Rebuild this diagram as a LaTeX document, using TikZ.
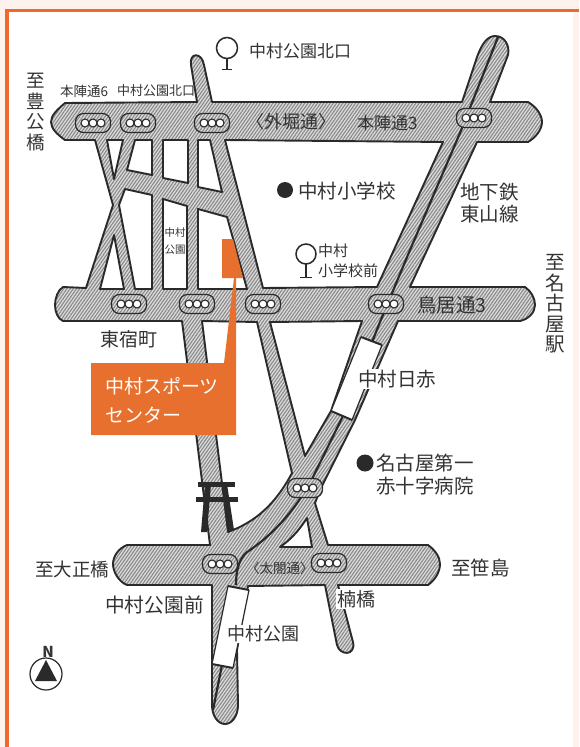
\documentclass[tikz,border=0pt]{standalone}
\usepackage{fontspec}
\setmainfont{Noto Sans CJK JP}
\usetikzlibrary{patterns.meta}
\definecolor{roadbg}{HTML}{DCDCDC}
\definecolor{roadln}{HTML}{888888}
\definecolor{ink}{HTML}{2A2A2A}
\definecolor{txt}{HTML}{333333}
\definecolor{orangeb}{HTML}{E8702F}
\definecolor{frameo}{HTML}{EE6A2C}
\definecolor{pagebg}{HTML}{FDF3EC}
\tikzset{
  hatchfill/.style={preaction={fill=roadbg},pattern={Lines[angle=55,distance=2.6pt,line width=1.1pt]},pattern color=roadln},
  roadshape/.style={hatchfill,draw=ink,line width=1.9pt,line join=round},
  holeshape/.style={fill=white,draw=ink,line width=1.9pt,line join=round},
  centerline/.style={draw=ink,line width=2.2pt},
  jt/.style={inner sep=0pt,anchor=west,text=txt,font=\fontsize{#1}{#1}\selectfont},
  jc/.style={inner sep=0pt,text=txt,font=\fontsize{#1}{#1}\selectfont},
  whitebg/.style={fill=white,inner sep=1pt},
  sigbox/.style={hatchfill,draw=ink,line width=1.2pt},
  lamp/.style={fill=white,draw=ink,line width=1.1pt},
  station/.style={fill=white},
  stationbar/.style={draw=ink,line width=2pt},
  stationside/.style={draw=ink,line width=1.2pt},
  toriibar/.style={fill=ink},
  vert/.style={inner sep=0pt,text=txt,align=center,font=\fontsize{#1}{20.5}\selectfont},
}
\newcommand{\sigmark}[2]{%
  \draw[sigbox,rounded corners=8pt] (#1-17.5,#2-9.5) rectangle (#1+17.5,#2+9.5);
  \draw[lamp] (#1-8,#2) circle (4pt);
  \draw[lamp] (#1,#2) circle (4pt);
  \draw[lamp] (#1+8,#2) circle (4pt);
}
\begin{document}
\begin{tikzpicture}[x=1pt,y=-1pt]
\useasboundingbox (0,0) rectangle (579,747);
% page and frame
\fill[pagebg] (0,0) rectangle (579,747);
\fill[white] (8,11) rectangle (573,747);
\fill[frameo] (5,9) rectangle (579,12);
\fill[frameo] (5,9) rectangle (8.5,747);
% road network outline
\path[roadshape]
  (51,122) .. controls (51,115) and (58,109) .. (65,103)
  -- (197,102) -- (191,65) .. controls (189,52) and (202,52) .. (204,65)
  -- (212,102) -- (462,102) -- (477,57) .. controls (482,43) and (488,36) .. (495,36)
  .. controls (505,36) and (510,46) .. (508,55)
  -- (490,102) -- (528,102) .. controls (535,106) and (542,114) .. (542,122)
  .. controls (542,130) and (535,138) .. (528,142)
  -- (477,142) -- (410,287) -- (525,287) .. controls (531,291) and (535,298) .. (535,305)
  .. controls (535,312) and (529,319) .. (520,321)
  -- (398,321) -- (355,420) -- (320,490) -- (315,503) -- (328,545)
  -- (428,545) .. controls (435,550) and (440,557) .. (440,564)
  .. controls (440,572) and (435,580) .. (428,585)
  -- (338,585) -- (353,642) .. controls (356,656) and (340,656) .. (337,645)
  -- (325,585) -- (248,586) -- (237,650) -- (238,705)
  .. controls (238,716) and (232,724) .. (225,724)
  .. controls (218,724) and (212,716) .. (212,705)
  -- (212,585) -- (127,585) .. controls (119,582) and (113,572) .. (113,564)
  .. controls (113,556) and (119,548) .. (127,545)
  -- (210,545) -- (182,321) -- (63,321) .. controls (58,319) and (55,312) .. (55,305)
  .. controls (55,298) and (58,290) .. (63,287)
  -- (86,288) -- (113,205) -- (95,140) -- (65,140)
  .. controls (58,135) and (51,129) .. (51,122) -- cycle;
% holes
\draw[holeshape] (107,140) -- (123,140) -- (114,179) -- cycle;
\draw[holeshape] (135,140) -- (152,140) -- (152,175) -- (127,170) -- cycle;
\draw[holeshape] (163,140) -- (188,140) -- (188,183) -- (163,178) -- cycle;
\draw[holeshape] (198,140) -- (210,140) -- (222,192) -- (198,187) -- cycle;
\draw[holeshape] (125,189) -- (152,195) -- (152,289) -- (135,289) -- (119,205) -- cycle;
\draw[holeshape] (163,199) -- (187,206) -- (187,289) -- (163,289) -- cycle;
\draw[holeshape] (198,209) -- (227,217) -- (247,289) -- (198,289) -- cycle;
\draw[holeshape] (114,235) -- (124,289) -- (100,289) -- cycle;
\draw[holeshape] (225,140) -- (443,142) -- (377,287) -- (263,288) -- cycle;
\draw[holeshape] (202,321) -- (257,322) -- (292,473) .. controls (275,505) and (255,522) .. (228,532) -- cycle;
\draw[holeshape] (270,322) -- (362,321) -- (331,411) -- (305,456) -- cycle;
\draw[holeshape] (307,518) .. controls (298,532) and (290,540) .. (280,547) -- (312,547) -- cycle;
% subway centre line
\draw[centerline] (498,37) -- (460,133) -- (410,250) -- (380,322) -- (342,418) -- (313,477)
  .. controls (296,510) and (272,535) .. (250,550)
  .. controls (240,556) and (236,568) .. (236,585);
\draw[centerline] (222,665) -- (213,710);
% stations
\fill[station] (361,337) -- (382,345) -- (352,420) -- (331,411) -- cycle;
\draw[stationbar] (361,337) -- (382,345);
\draw[stationbar] (352,420) -- (331,411);
\draw[stationside] (361,337) -- (331,411);
\draw[stationside] (382,345) -- (352,420);
\fill[station] (228,586) -- (249,590) -- (233,668) -- (212,664) -- cycle;
\draw[stationbar] (228,586) -- (249,590);
\draw[stationbar] (233,668) -- (212,664);
\draw[stationside] (228,586) -- (212,664);
\draw[stationside] (249,590) -- (233,668);
% torii
\fill[toriibar] (198,482) rectangle (235,487);
\fill[toriibar] (196,497) rectangle (238,502);
\fill[toriibar] (205,484) -- (211,484) -- (207,532) -- (201,532) -- cycle;
\fill[toriibar] (222,484) -- (227,484) -- (234,530) -- (228,532) -- cycle;
% signals
\sigmark{93}{123}\sigmark{138}{123}\sigmark{212}{123}\sigmark{474}{118}
\sigmark{129}{304}\sigmark{197}{304}\sigmark{263}{304}\sigmark{386}{304}
\sigmark{305}{488}\sigmark{220}{564}\sigmark{329}{563}
% bus stops
\draw[ink,line width=1.5pt] (227,48) circle (10.5pt);
\draw[ink,line width=1.3pt] (227,58.5) -- (227,69);
\draw[ink,line width=1.3pt] (222,69.5) -- (232,69.5);
\draw[ink,line width=1.5pt] (306,254) circle (10pt);
\draw[ink,line width=1.3pt] (306,264) -- (306,277);
\draw[ink,line width=1.3pt] (300,277.5) -- (312,277.5);
% hospital / school dots
\fill[ink] (285,190) circle (8pt);
\fill[ink] (365,463) circle (8.5pt);
% orange building and callout
\fill[orangeb] (222,239) -- (233,239) -- (243,278) -- (222,278) -- cycle;
\fill[orangeb] (91,363) -- (224,363) -- (234,278) -- (236,278) -- (236,435) -- (91,435) -- cycle;
% labels
\node[jt=17] (l1) at (249,51) {中村公園北口};
\node[vert=18.5] (l2) at (36,112) {至\\豊\\公\\橋};
\node[jt=13.5] (l3) at (60,91) {本陣通6};
\node[jt=13] (l4) at (117,91) {中村公園北口};
\node[jt=18] (l5) at (246,122) {〈外堀通〉};
\node[jt=17] (l6) at (357,123) {本陣通3};
\node[jt=19.5] (l7) at (298,191) {中村小学校};
\node[jt=19.5] (l8) at (460,192) {地下鉄};
\node[jt=19.5] (l9) at (460,214) {東山線};
\node[jc=10.5] (l10) at (175,233) {中村};
\node[jc=10.5] (l11) at (175,250) {公園};
\node[jt=15] (l12) at (318,251) {中村};
\node[jt=15] (l13) at (318,271) {小学校前};
\node[jt=19] (l14) at (100,339) {東宿町};
\node[jt=19,text=white] (l15) at (105,386) {中村スポーツ};
\node[jt=19,text=white] (l16) at (105,415) {センター};
\node[jt=19.5] (l17) at (417,305) {鳥居通3};
\node[jt=19.5,whitebg] (l18) at (357,379) {中村日赤};
\node[jt=19.5] (l19) at (376,463) {名古屋第一};
\node[jt=19.5] (l20) at (376,486) {赤十字病院};
\node[vert=19.5] (l21) at (555,304) {至\\名\\古\\屋\\駅};
\node[jt=18.5] (l22) at (35,569) {至大正橋};
\node[jt=19.7] (l23) at (105,605) {中村公園前};
\node[jt=13.5] (l24) at (246,568) {〈太閤通〉};
\node[jt=19,whitebg] (l25) at (336,599) {楠橋};
\node[jt=19.5] (l26) at (451,568) {至笹島};
\node[jt=18,whitebg] (l27) at (226,634) {中村公園};
% north mark
\draw[ink,line width=1.2pt] (46,674) circle (16pt);
\fill[ink] (46,660) -- (35,681) -- (57,681) -- cycle;
\node[jc=15,font=\fontsize{15}{15}\selectfont\bfseries] (n) at (48,652) {N};
\end{tikzpicture}
\end{document}
